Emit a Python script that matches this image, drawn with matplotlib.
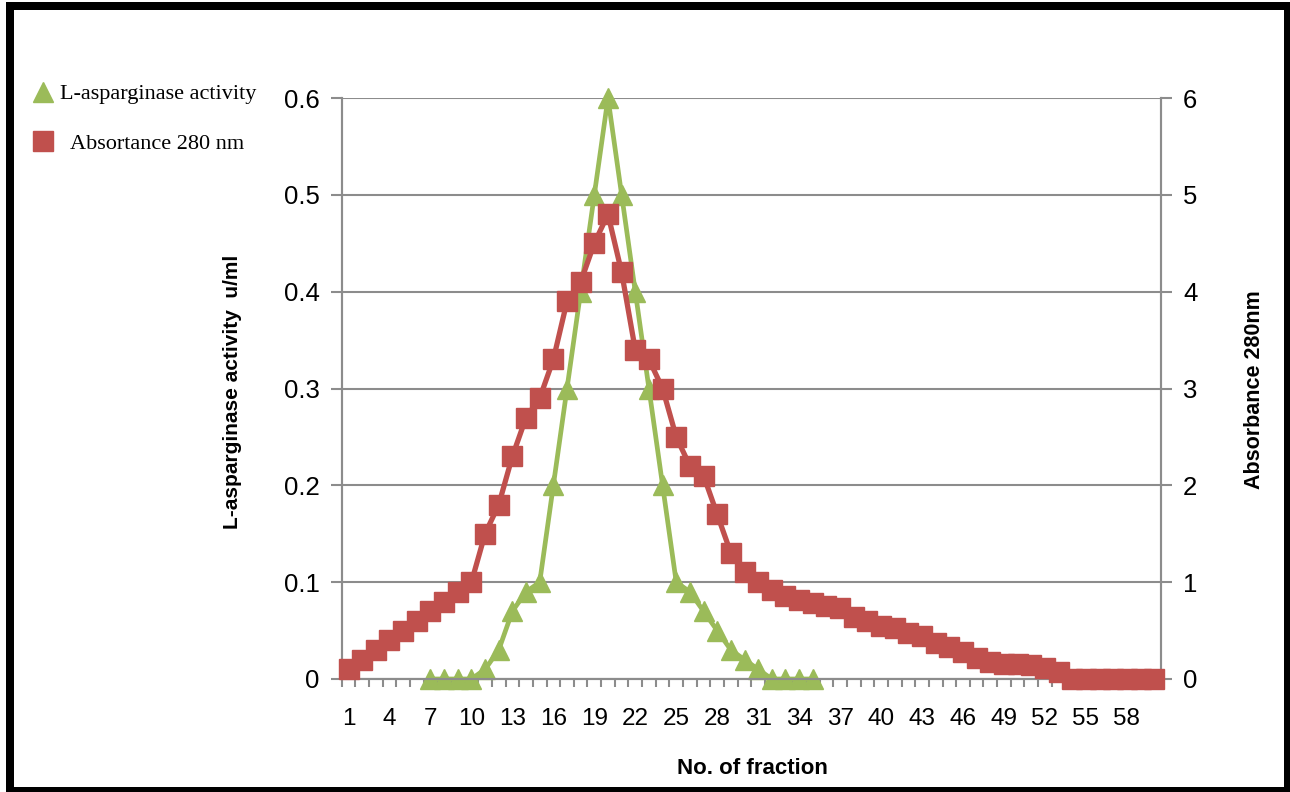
import numpy as np
import matplotlib
matplotlib.use("Agg")
import matplotlib.pyplot as plt
from matplotlib.lines import Line2D
from matplotlib.patches import Rectangle
from matplotlib.ticker import FixedLocator, NullFormatter

# ── fraction data ────────────────────────────────────────────────────
fractions = list(range(1, 61))

# L-asparginase activity (u/ml), measured on fractions 7..35
act_fractions = list(range(7, 36))
activity = [0, 0, 0, 0, 0.01, 0.03, 0.07, 0.09, 0.10, 0.20,
            0.30, 0.40, 0.50, 0.60, 0.50, 0.40, 0.30, 0.20, 0.10, 0.09,
            0.07, 0.05, 0.03, 0.02, 0.01, 0, 0, 0, 0]

# absorbance at 280 nm, fractions 1..60
absorbance = [0.1, 0.2, 0.3, 0.4, 0.5, 0.6, 0.7, 0.8, 0.9, 1.0,
              1.5, 1.8, 2.3, 2.7, 2.9, 3.3, 3.9, 4.1, 4.5, 4.8,
              4.2, 3.4, 3.3, 3.0, 2.5, 2.2, 2.1, 1.7, 1.3, 1.1,
              1.0, 0.92, 0.86, 0.82, 0.78, 0.75, 0.73, 0.64, 0.60, 0.55,
              0.53, 0.48, 0.44, 0.37, 0.33, 0.28, 0.22, 0.18, 0.16, 0.15,
              0.14, 0.11, 0.07, 0, 0, 0, 0, 0, 0, 0]

x_labels = list(range(1, 59, 3))
left_ticks = [0, 0.1, 0.2, 0.3, 0.4, 0.5, 0.6]
right_ticks = [0, 1, 2, 3, 4, 5, 6]

GREEN = "#9BBB59"
RED = "#C0504D"
AXIS_GREY = "#8C8C8C"
W, H = 1290, 792

narrow = ["Liberation Sans Narrow", "Liberation Sans", "DejaVu Sans"]
sans = ["Liberation Sans", "DejaVu Sans"]
serif = ["Liberation Serif", "DejaVu Serif"]

fig = plt.figure(figsize=(W / 100, H / 100), dpi=100)
fig.patch.set_facecolor("white")

x0, x1, y_top, y_bot = 341.7, 1161.0, 98.0, 679.0
ax = fig.add_axes([x0 / W, 1 - y_bot / H, (x1 - x0) / W, (y_bot - y_top) / H])

# -- activity on the primary axis
ax.plot(act_fractions, activity, color=GREEN, lw=3.4, marker="^",
        ms=14, mec=GREEN, mfc=GREEN, zorder=3, clip_on=False)
ax.set_xlim(0.5, 60.5)
ax.set_ylim(0, 0.6)

ax.set_yticks(left_ticks)
ax.set_yticklabels(["0" if v == 0 else f"{v:.1f}" for v in left_ticks],
                   fontfamily=sans, fontsize=18.5)
ax.yaxis.grid(True, color=AXIS_GREY, lw=1.5)
ax.set_axisbelow(True)

ax.xaxis.set_major_locator(FixedLocator(x_labels))
ax.set_xticklabels([str(v) for v in x_labels], fontfamily=narrow, fontsize=17.5)
ax.xaxis.set_minor_locator(FixedLocator(np.arange(0.5, 61, 1)))
ax.xaxis.set_minor_formatter(NullFormatter())
ax.tick_params(axis="x", which="major", length=0, pad=21, colors="black")
ax.tick_params(axis="x", which="minor", length=6, width=1.5, color=AXIS_GREY)
ax.tick_params(axis="y", length=8, width=1.5, color=AXIS_GREY, pad=8,
               labelcolor="black")

ax.spines["top"].set_visible(False)
for side in ("left", "right", "bottom"):
    ax.spines[side].set_color(AXIS_GREY)
    ax.spines[side].set_linewidth(1.5)

# -- absorbance on the secondary axis
ax2 = ax.twinx()
ax2.plot(fractions, absorbance, color=RED, lw=3.8, marker="s",
         ms=14, mec=RED, mfc=RED, zorder=4, clip_on=False)
ax2.set_ylim(0, 6)
ax2.set_yticks(right_ticks)
ax2.set_yticklabels([str(v) for v in right_ticks], fontfamily=sans, fontsize=18.5)
ax2.tick_params(axis="y", length=8, width=1.5, color=AXIS_GREY, pad=8)
ax2.spines["top"].set_visible(False)
for side in ("left", "right", "bottom"):
    ax2.spines[side].set_color(AXIS_GREY)
    ax2.spines[side].set_linewidth(1.5)

# -- axis titles
fig.text(232 / W, 1 - 392 / H, "L-asparginase activity  u/ml", rotation=90,
         ha="center", va="center", fontfamily=narrow, fontweight="bold",
         fontsize=15)
fig.text(1254 / W, 1 - 390 / H, "Absorbance 280nm", rotation=90,
         ha="center", va="center", fontfamily=narrow, fontweight="bold",
         fontsize=15.5)
fig.text(752 / W, 1 - 768 / H, "No. of fraction", ha="center", va="center",
         fontfamily=narrow, fontweight="bold", fontsize=16)

# -- legend, markers only
handles = [
    Line2D([], [], ls="none", marker="^", ms=14, color=GREEN),
    Line2D([], [], ls="none", marker="s", ms=14, color=RED),
]
fig.legend(handles, ["L-asparginase activity", "  Absortance 280 nm"],
           loc="upper left", bbox_to_anchor=(24 / W, 1 - 75 / H),
           frameon=False, handlelength=0.9, handletextpad=0.3,
           labelspacing=1.3, borderaxespad=0,
           prop={"family": serif, "size": 16})

# -- black frame around the whole figure
for (bx, by, bw, bh) in [(6, 2, 8, 790), (6, 2, 1284, 8),
                         (1284, 2, 6, 790), (6, 787, 1284, 5)]:
    fig.add_artist(Rectangle((bx / W, 1 - (by + bh) / H), bw / W, bh / H,
                             transform=fig.transFigure, color="black", lw=0))

fig.savefig("out.png", dpi=100)
